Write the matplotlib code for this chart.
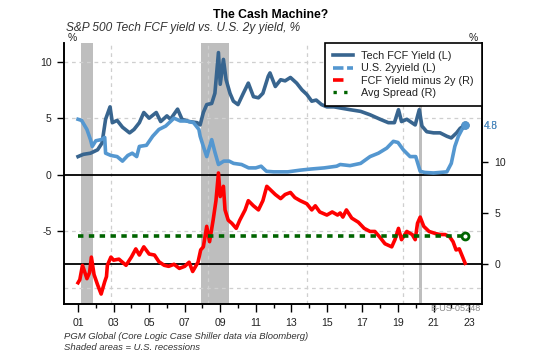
import matplotlib
matplotlib.use("Agg")
import matplotlib.pyplot as plt
from matplotlib.lines import Line2D

# ----------------------------------
# DATA
# ----------------------------------

fcf_x = [2001.0, 2001.3, 2001.7, 2002.1, 2002.35, 2002.55, 2002.8, 2002.93, 2003.2, 2003.5,
         2003.9, 2004.15, 2004.45, 2004.7, 2005.0, 2005.4, 2005.65, 2006.0, 2006.2, 2006.6,
         2006.85, 2007.25, 2007.7, 2007.87, 2008.05, 2008.24, 2008.52, 2008.7, 2008.9, 2009.0,
         2009.18, 2009.33, 2009.55, 2009.74, 2010.0, 2010.3, 2010.58, 2010.87, 2011.15, 2011.4,
         2011.7, 2011.8, 2012.1, 2012.4, 2012.65, 2012.95, 2013.3, 2013.6, 2013.87, 2014.15,
         2014.4, 2014.7, 2015.0, 2015.4, 2015.75, 2016.3, 2016.9, 2017.43, 2018.0, 2018.46,
         2018.8, 2019.03, 2019.2, 2019.5, 2019.97, 2020.2, 2020.35, 2020.62, 2021.0, 2021.37,
         2021.75, 2022.0, 2022.3, 2022.5, 2022.78]
fcf_y = [1.6, 1.8, 1.9, 2.2, 2.8, 4.9, 6.0, 4.6, 4.8, 4.2,
         3.7, 4.0, 4.6, 5.5, 5.0, 5.5, 4.7, 5.2, 4.9, 5.8,
         4.9, 4.7, 4.6, 4.4, 5.5, 6.2, 6.3, 7.2, 10.8, 8.0,
         10.2, 8.4, 7.2, 6.5, 6.2, 7.2, 8.1, 6.9, 6.8, 7.2,
         8.7, 9.0, 7.8, 8.4, 8.3, 8.6, 8.1, 7.5, 7.1, 6.5,
         6.6, 6.2, 6.0, 6.0, 5.9, 5.75, 5.6, 5.3, 4.9, 4.6,
         4.6, 5.75, 4.7, 4.9, 4.4, 5.75, 4.3, 3.8, 3.7, 3.7,
         3.4, 3.25, 3.7, 4.1, 4.4]

y2_x = [2001.0, 2001.2, 2001.5, 2001.7, 2001.8, 2002.0, 2002.3, 2002.5, 2002.55, 2002.85,
        2003.2, 2003.5, 2003.8, 2004.05, 2004.3, 2004.45, 2004.85, 2005.2, 2005.55, 2005.93,
        2006.4, 2006.75, 2007.1, 2007.5, 2007.8, 2007.87, 2008.05, 2008.24, 2008.52, 2008.7,
        2008.9, 2009.2, 2009.5, 2009.75, 2010.2, 2010.6, 2011.0, 2011.3, 2011.6, 2012.0,
        2012.8, 2013.5, 2014.1, 2014.85, 2015.55, 2015.75, 2016.3, 2016.9, 2017.43, 2017.9,
        2018.37, 2018.74, 2019.0, 2019.3, 2019.68, 2020.0, 2020.25, 2020.5, 2021.0, 2021.75,
        2022.0, 2022.2, 2022.4, 2022.6, 2022.78]
y2_y = [4.9, 4.8, 4.0, 3.1, 2.5, 3.0, 3.1, 3.3, 1.9, 1.7,
        1.6, 1.2, 1.7, 1.9, 1.6, 2.5, 2.6, 3.4, 4.0, 4.3,
        5.0, 4.75, 4.75, 4.6, 4.0, 3.4, 2.5, 1.6, 3.1, 2.0,
        0.9, 1.2, 1.2, 1.0, 0.9, 0.6, 0.6, 0.75, 0.3, 0.25,
        0.25, 0.4, 0.5, 0.6, 0.75, 0.9, 0.8, 1.0, 1.6, 1.9,
        2.35, 2.95, 2.85, 2.2, 1.6, 1.6, 0.3, 0.2, 0.15, 0.25,
        1.0, 2.5, 3.4, 4.0, 4.4]

spread_x = [2001.0, 2001.1, 2001.25, 2001.5, 2001.65, 2001.75, 2001.9, 2002.1, 2002.3, 2002.5,
            2002.6, 2002.65, 2002.85, 2003.0, 2003.3, 2003.7, 2004.0, 2004.25, 2004.45, 2004.7,
            2005.0, 2005.3, 2005.55, 2005.85, 2006.1, 2006.4, 2006.7, 2007.0, 2007.25, 2007.45,
            2007.75, 2007.9, 2008.05, 2008.24, 2008.4, 2008.6, 2008.76, 2008.9, 2009.0, 2009.18,
            2009.27, 2009.45, 2009.65, 2009.9, 2010.1, 2010.4, 2010.58, 2010.87, 2011.15, 2011.4,
            2011.62, 2011.8, 2012.1, 2012.4, 2012.65, 2012.95, 2013.2, 2013.5, 2013.87, 2014.15,
            2014.35, 2014.6, 2015.0, 2015.3, 2015.6, 2015.75, 2015.9, 2016.1, 2016.4, 2016.77,
            2017.1, 2017.43, 2017.7, 2018.0, 2018.27, 2018.65, 2018.83, 2019.03, 2019.2, 2019.5,
            2019.8, 2019.97, 2020.1, 2020.25, 2020.45, 2020.75, 2021.1, 2021.37, 2021.65, 2021.9,
            2022.1, 2022.27, 2022.45, 2022.64, 2022.78]
spread_y = [-1.8, -1.5, -0.1, -1.4, -0.8, 0.7, -1.0, -2.0, -2.9, -1.7,
            -1.2, -0.1, 0.7, 0.4, 0.5, -0.1, 0.7, 1.5, 0.9, 1.7,
            1.0, 0.9, 0.25, -0.1, -0.2, 0.0, -0.4, -0.2, 0.2, -0.7,
            0.2, 1.4, 1.7, 3.7, 2.2, 4.3, 6.2, 8.9, 6.6, 7.6,
            5.3, 4.3, 4.0, 3.5, 4.3, 5.3, 6.2, 5.7, 5.3, 6.2,
            7.6, 7.3, 6.8, 6.4, 6.8, 7.0, 6.5, 6.2, 5.9, 5.3,
            5.7, 5.1, 4.8, 5.1, 4.8, 5.0, 4.6, 5.3, 4.5, 4.1,
            3.5, 3.2, 3.2, 2.6, 2.0, 1.7, 2.4, 3.5, 2.4, 3.2,
            2.9, 2.4, 4.0, 4.6, 3.7, 3.2, 3.0, 2.9, 2.9, 2.7,
            2.2, 1.4, 1.5, 0.7, 0.1]

avg_x = [2001.0, 2022.78]
avg_y = [2.8, 2.8]

recessions = [(2001.17, 2001.83), (2007.92, 2009.5), (2020.17, 2020.33)]

fcf_last_label = "4.8"
y2_last_label = "4.5"

# ----------------------------------
# STYLE
# ----------------------------------

plt.rcParams["font.family"] = ["Liberation Sans", "DejaVu Sans"]

dark_blue = "#38658F"
light_blue = "#5497D0"
red = "#FF0000"
green = "#006400"
grid_c = "#CFCFCF"
text_c = "#222222"

fig = plt.figure(figsize=(5.57, 3.55), dpi=100)
ax = fig.add_axes([0.1149, 0.1437, 0.7505, 0.7352])
ax2 = ax.twinx()

# recession shading
for start, end in recessions:
    ax.axvspan(start, end, color="#BEBEBE", lw=0, zorder=0)

# grid lines
for g in [10, 5, -5, -10]:
    ax.axhline(g, color=grid_c, lw=0.9, ls=(0, (3, 3)), zorder=0.5)
for g in [2002.86, 2008.3, 2013.89, 2019.29]:
    ax.axvline(g, color=grid_c, lw=0.9, ls=(0, (3, 3)), zorder=0.5)

ax.axhline(0, color="black", lw=1.3, zorder=1)
ax2.axhline(0, color="black", lw=1.3, zorder=1)

# left axis series
ax.plot(fcf_x, fcf_y, color=dark_blue, lw=2.6, zorder=3)
ax.plot(y2_x, y2_y, color=light_blue, lw=2.6, zorder=4)
ax.plot(fcf_x[-1], fcf_y[-1], "o", color=dark_blue, ms=5, zorder=5)
ax.plot(y2_x[-1], y2_y[-1], "o", color=light_blue, ms=5, zorder=6)

# right axis series
ax2.plot(spread_x, spread_y, color=red, lw=2.6, zorder=3)
ax2.plot(avg_x, avg_y, color=green, lw=2.6, ls=(0, (1.5, 1.5)), zorder=4)
ax2.plot(avg_x[-1], avg_y[-1], "o", mfc="none", mec=green, mew=2, ms=5, zorder=5)

# axis limits
ax.set_xlim(2000.21, 2023.73)
ax.set_ylim(-11.44, 11.65)
ax2.set_ylim(-3.87, 21.57)

# ticks
ax.set_xticks(list(range(2001, 2024, 2)))
ax.set_xticklabels(["%02d" % (y % 100) for y in range(2001, 2024, 2)])
ax.set_xticks(list(range(2002, 2023, 2)), minor=True)
ax.tick_params(axis="x", which="major", length=5.5, width=1, pad=4.5, labelsize=7.6)
ax.tick_params(axis="x", which="minor", length=3, width=1)
ax.set_yticks([10, 5, 0, -5])
ax.set_yticklabels(["10", "5", "0", "-5"])
ax.tick_params(axis="y", length=5, width=1, pad=4, labelsize=7.6)
ax2.set_yticks([0, 5, 10])
ax2.tick_params(axis="y", length=4, width=1, pad=5, labelsize=7.6)
for a in (ax, ax2):
    a.tick_params(colors="black", labelcolor=text_c, which="both")
    a.spines["top"].set_visible(False)
    for s in ("left", "right", "bottom"):
        a.spines[s].set_linewidth(1.2)

# last value labels
ax.annotate(fcf_last_label, xy=(1.003, y2_y[-1] - 0.1), xycoords=("axes fraction", "data"),
            color=dark_blue, fontsize=7.2, va="center", ha="left")
ax.annotate(y2_last_label, xy=(1.003, y2_y[-1] - 0.1), xycoords=("axes fraction", "data"),
            color=light_blue, fontsize=7.2, va="center", ha="left")

# legend
handles = [
    Line2D([], [], color=dark_blue, lw=2.6),
    Line2D([], [], color=light_blue, lw=2.6, ls=(0, (2.9, 1))),
    Line2D([], [], color=red, lw=2.6, ls=(0, (2.9, 10))),
    Line2D([], [], color=green, lw=2.4, ls=(0, (1, 2.2))),
]
labels = ["Tech FCF Yield (L)", "U.S. 2yyield (L)", "FCF Yield minus 2y (R)", "Avg Spread (R)"]
leg = ax2.legend(handles, labels, loc="upper right", bbox_to_anchor=(1.0, 1.0),
                 prop={"size": 7.8}, frameon=True, fancybox=False,
                 edgecolor="black", framealpha=1, borderaxespad=0, borderpad=0.75,
                 labelspacing=0.22, handlelength=1.85, handletextpad=0.8)
leg.get_frame().set_linewidth(1.2)
for t in leg.get_texts():
    t.set_color(text_c)

# titles and notes
fig.text(0.485, 0.958, "The Cash Machine?", ha="center", va="center",
         fontsize=8.8, fontweight="bold", color="black")
fig.text(0.1185, 0.9225, "S&P 500 Tech FCF yield vs. U.S. 2y yield, %", ha="left", va="center",
         fontsize=8.6, style="italic", color="#333333")
fig.text(72 / 557, 1 - 38 / 355, "%", ha="center", va="center", fontsize=7.5, color=text_c)
fig.text(473 / 557, 1 - 38 / 355, "%", ha="center", va="center", fontsize=7.5, color=text_c)
fig.text(0.115, 0.051, "PGM Global (Core Logic Case Shiller data via Bloomberg)", ha="left",
         va="center", fontsize=6.8, style="italic", color="#333333")
fig.text(0.115, 0.0225, "Shaded areas = U.S. recessions", ha="left", va="center",
         fontsize=6.8, style="italic", color="#333333")
fig.text(0.862, 0.130, "B-US-05248", ha="right", va="center", fontsize=6.6, color="#888888")

fig.savefig("out.png", dpi=100)
plt.close(fig)
